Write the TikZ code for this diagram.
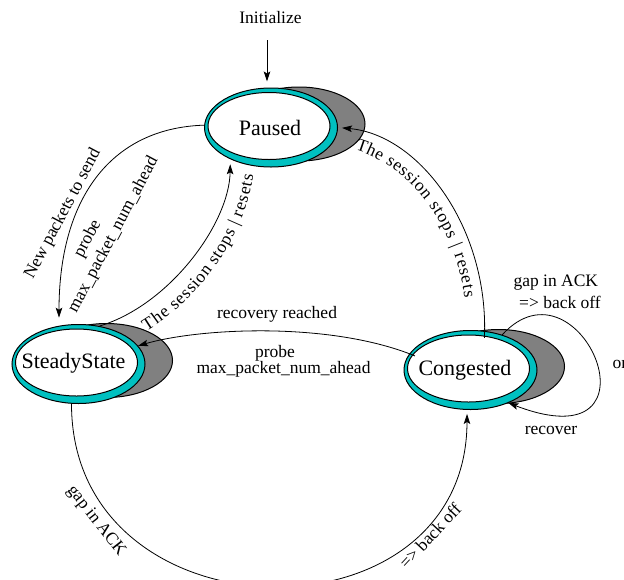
\documentclass[tikz,border=0pt]{standalone}
\usepackage{fontspec}
\setmainfont{Liberation Serif}
\usetikzlibrary{shapes.geometric,arrows.meta,decorations.text}
\definecolor{tealring}{RGB}{0,192,192}
\definecolor{shadegray}{RGB}{128,128,128}
\newcommand\lblfont{\fontsize{17.5}{21}\selectfont}
\newcommand\stfont{\fontsize{22}{26}\selectfont}
\newcommand\statebody[3]{%
  \draw[shadowshape] (#2+30,#3-2) ellipse [x radius=66, y radius=37];
  \node[tealnode] (#1) at (#2+2,#3+1.5) {};
  \draw[innershape] (#2,#3) ellipse [x radius=61, y radius=33.5];
}
\begin{document}
\begin{tikzpicture}[x=1pt,y=-1pt,
  conn/.style={line width=0.8pt,-{Stealth[length=10pt,width=6.5pt,inset=2pt]}},
  tealnode/.style={ellipse,draw,line width=1pt,fill=tealring,minimum width=133pt,minimum height=79pt,inner sep=0pt},
  shadowshape/.style={draw,line width=1pt,fill=shadegray},
  innershape/.style={draw,line width=1pt,fill=white},
  stlabel/.style={font=\stfont,inner sep=0pt,anchor=base},
  lbl/.style={font=\lblfont,inner sep=0pt}]
\useasboundingbox (0,0) rectangle (624,579);

% states
\statebody{P}{269}{126}
\statebody{S}{76.5}{362.5}
\statebody{C}{468.5}{368.5}
\node[stlabel] (Pt) at (270,135) {Paused};
\node[stlabel] (St) at (73.5,368) {SteadyState};
\node[stlabel] (Ct) at (465,375) {Congested};

% initial
\node[lbl,anchor=base] (init) at (270.5,23.3) {Initialize};
\draw[conn,shorten <=16.5pt,shorten >=6pt] ([xshift=-3.5pt]init.south) -- ([xshift=-3.5pt]init.south |- P.north);

% Paused -> SteadyState
\draw[conn,shorten >=8pt] (P.178) .. controls +(-95,3) and +(0,-125) .. (S.117);
\node[lbl,rotate=62] (l8) at (63,214) {New packets to send};
\node[lbl,rotate=62] (l9) at (88,239) {probe};
\node[lbl,rotate=62] (l10) at (113.5,235) {max\_packet\_num\_ahead};

% SteadyState -> Paused
\draw[conn,shorten >=5pt] (S.61) .. controls +(70,-21) and +(-1,64) .. (P.218);
\path[decorate,decoration={text along path,text align={right,right indent=12pt},raise=-24pt,
  text={|\lblfont|The session stops {\textbar} resets}}]
  (S.61) .. controls +(70,-21) and +(-1,64) .. (P.218);

% Congested -> Paused
\draw[conn,shorten <=-7pt,shorten >=4pt] (C.70) .. controls +(4.4,-101.4) and +(82.5,7.5) .. (P.east);
\path[decorate,decoration={text along path,text align={fit to path,left indent=24pt,right indent=36pt},raise=-19pt,
  text={|\lblfont|The session stops {\textbar} resets}}]
  (P.east) .. controls +(82.5,7.5) and +(4.4,-101.4) .. (C.70);

% Congested -> SteadyState
\draw[conn,shorten <=-6pt] (C.165) .. controls +(-79.4,-32.4) and +(61.8,-17.8) .. (S.17);
\node[lbl,anchor=base] (l5) at (277,318) {recovery reached};
\node[lbl,anchor=base] (l6) at (275,357.7) {probe};
\node[lbl,anchor=base] (l7) at (283.5,373) {max\_packet\_num\_ahead};

% SteadyState -> Congested
\draw[conn,shorten >=4pt] (S.260) .. controls +(0,238) and +(0,238) .. (C.265);
\node[lbl,rotate=-52] (l11) at (96,521) {gap in ACK};
\node[lbl,rotate=47] (l12) at (430,536) {=> back off};

% self loop
\draw[conn] (C.48) .. controls +(78,-85) and +(162,62) .. (C.-41);
\node[lbl,anchor=base] (l1) at (555.8,286) {gap in ACK};
\node[lbl,anchor=base] (l2) at (560,308) {=> back off};
\node[lbl,anchor=base] (l3) at (551,434) {recover};
\node[lbl,anchor=base west] (l4) at (612.5,368) {or};
\end{tikzpicture}
\end{document}
